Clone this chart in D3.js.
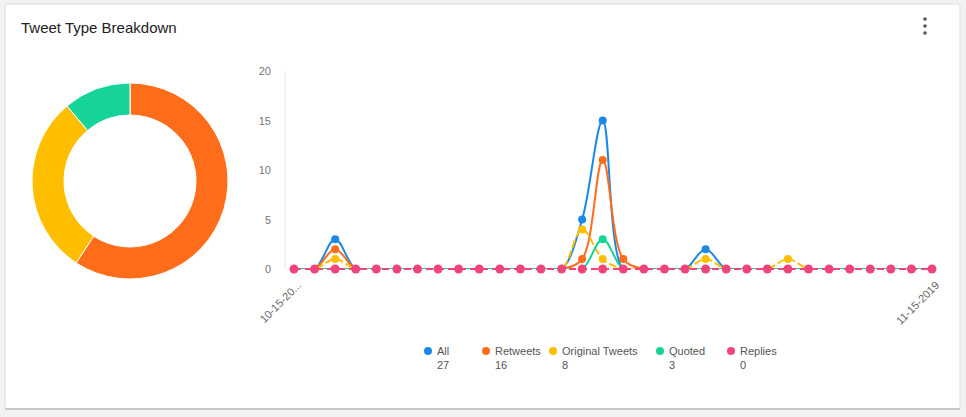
<!DOCTYPE html>
<html>
<head>
<meta charset="utf-8">
<script src="https://cdn.jsdelivr.net/npm/d3@7"></script>
<style>
  body { margin: 0; background: #f2f2f2; font-family: "Helvetica Neue", "Liberation Sans", Arial, sans-serif; }
  svg { display: block; }
</style>
</head>
<body>
<svg id="chart" width="966" height="417"></svg>
<script>
const width = 966
const height = 417

// data
const seriesNames = ['All', 'Retweets', 'Original Tweets', 'Quoted', 'Replies']
const seriesColors = ['#1e88e5', '#ff6d1a', '#ffbf00', '#16d39a', '#f0457a']
const totals = [27, 16, 8, 3, 0]
const all = [0,0,3,0,0,0,0,0,0,0,0,0,0,0,5,15,0,0,0,0,2,0,0,0,0,0,0,0,0,0,0,0]
const retweets = [0,0,2,0,0,0,0,0,0,0,0,0,0,0,1,11,1,0,0,0,0,0,0,0,0,0,0,0,0,0,0,0]
const original = [0,0,1,0,0,0,0,0,0,0,0,0,0,0,4,1,0,0,0,0,1,0,0,0,1,0,0,0,0,0,0,0]
const quoted = [0,0,0,0,0,0,0,0,0,0,0,0,0,0,0,3,0,0,0,0,0,0,0,0,0,0,0,0,0,0,0,0]
const replies = new Array(32).fill(0)
const yTicks = [0, 5, 10, 15, 20]
const xLabels = ['10-15-20...', '11-15-2019']
const donutValues = [16, 8, 3]
const donutColors = ['#ff6d1a', '#ffbf00', '#16d39a']

const svg = d3.select('#chart')

// card
svg.append('rect').attr('x', 5).attr('y', 4).attr('width', 955).attr('height', 405)
  .attr('fill', '#fff').attr('stroke', '#ddd').attr('rx', 2)
svg.append('rect').attr('x', 5).attr('y', 408).attr('width', 955).attr('height', 2).attr('fill', '#c8c8c8')
svg.append('text').attr('x', 21).attr('y', 33).text('Tweet Type Breakdown')
  .attr('font-size', 15).attr('font-weight', 500).attr('fill', '#222')
;[19, 26, 33].forEach(cy => svg.append('circle').attr('cx', 925).attr('cy', cy).attr('r', 1.8).attr('fill', '#555'))

// donut
const pie = d3.pie().sort(null)
const arc = d3.arc().innerRadius(66).outerRadius(98)
svg.append('g').attr('transform', 'translate(130,181)')
  .selectAll('path').data(pie(donutValues)).join('path')
  .attr('d', arc).attr('fill', (d, i) => donutColors[i])
  .attr('stroke', '#fff').attr('stroke-width', 1)

// line chart
const x = d3.scaleLinear().domain([0, 31]).range([294, 932])
const y = d3.scaleLinear().domain([0, 20]).range([269, 71])

svg.append('line').attr('x1', 285).attr('x2', 285).attr('y1', 71).attr('y2', 269).attr('stroke', '#e6e6e6')
const yAxis = d3.axisLeft(y).tickValues(yTicks).tickSize(0).tickPadding(8)
const ga = svg.append('g').attr('transform', 'translate(279,0)').call(yAxis)
ga.select('.domain').remove()
ga.selectAll('text').attr('fill', '#777').attr('font-size', 11).attr('font-family', 'inherit')

const data = [all, retweets, original, quoted, replies]
const line = d3.line().x((d, i) => x(i)).y(d => y(d)).curve(d3.curveCatmullRom)

svg.append('defs').append('clipPath').attr('id', 'clip')
  .append('rect').attr('x', 280).attr('y', 60).attr('width', 670).attr('height', 209)

data.forEach((vals, s) => {
  const g = svg.append('g')
  g.append('path').attr('d', line(vals)).attr('fill', 'none')
    .attr('clip-path', s === 4 ? null : 'url(#clip)')
    .attr('stroke', seriesColors[s]).attr('stroke-width', 2)
    .attr('stroke-dasharray', s === 4 ? '7,4' : (s === 2 ? '8,3' : null))
  g.selectAll('circle').data(vals.map((v, i) => ({ v, i })).filter(d => s === 4 || d.v > 0))
    .join('circle').attr('cx', d => x(d.i)).attr('cy', d => y(d.v)).attr('r', s === 4 ? 4.5 : 4)
    .attr('fill', seriesColors[s])
})

// x labels
;[0, 31].forEach((idx, k) => {
  svg.append('text')
    .attr('transform', `translate(${x(idx) + 8},${286}) rotate(-45)`)
    .attr('text-anchor', 'end').attr('font-size', 11).attr('fill', '#666')
    .text(xLabels[k])
})

// legend
const legX = [428, 486, 553, 660, 731]
seriesNames.forEach((n, i) => {
  svg.append('circle').attr('cx', legX[i]).attr('cy', 351).attr('r', 4).attr('fill', seriesColors[i])
  svg.append('text').attr('x', legX[i] + 9).attr('y', 355).attr('font-size', 11).attr('fill', '#555').text(n)
  svg.append('text').attr('x', legX[i] + 9).attr('y', 369).attr('font-size', 11).attr('fill', '#555').text(totals[i])
})
</script>
</body>
</html>
